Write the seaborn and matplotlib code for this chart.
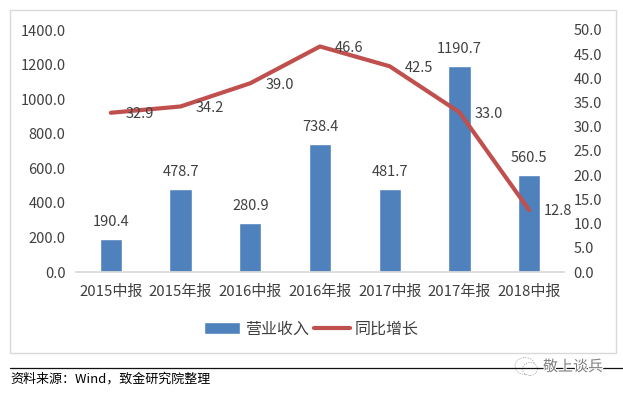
import matplotlib
matplotlib.use("Agg")
import matplotlib.pyplot as plt
from matplotlib.patches import Rectangle, Ellipse
import matplotlib.patheffects as pe
import seaborn as sns
import pandas as pd

categories = ["2015中报", "2015年报", "2016中报", "2016年报", "2017中报", "2017年报", "2018中报"]
revenue = [190.4, 478.7, 280.9, 738.4, 481.7, 1190.7, 560.5]
growth = [32.9, 34.2, 39.0, 46.6, 42.5, 33.0, 12.8]
left_ticks = [0, 200, 400, 600, 800, 1000, 1200, 1400]
right_ticks = [0, 5, 10, 15, 20, 25, 30, 35, 40, 45, 50]

sns.set_theme(style="white")
plt.rcParams['font.family'] = ['Noto Sans CJK SC', 'DejaVu Sans']
TXT = "#404040"
BLUE = "#4f81bd"
RED = "#c0504d"

df = pd.DataFrame({"cat": categories, "rev": revenue, "gr": growth})
fig = plt.figure(figsize=(6.23, 3.93), dpi=100)
W, H = 623, 393
ax = fig.add_axes([76/W, 1-272/H, (564-76)/W, (272-30)/H])
sns.barplot(data=df, x="cat", y="rev", ax=ax, color=BLUE, width=0.32, saturation=1, label="营业收入")
ax.set_ylim(0, 1400)
ax.set_xlim(-0.5, 6.5)
ax.set_yticks(left_ticks)
ax.set_yticklabels([f"{v:.1f}" for v in left_ticks], fontsize=10.5, color=TXT)
ax.set_xlabel(""); ax.set_ylabel("")
ax.tick_params(axis='x', labelsize=10.8, colors=TXT, length=0, pad=9.5)
ax.tick_params(axis='y', length=0, pad=7.5)
ax.yaxis.grid(False); ax.xaxis.grid(False)
for s in ["top", "left", "right"]:
    ax.spines[s].set_visible(False)
ax.spines["bottom"].set_color("#d9d9d9")
for i, v in enumerate(revenue):
    ax.text(i, v + 58, f"{v:.1f}", ha="center", va="bottom", fontsize=10.5, color=TXT)

ax2 = ax.twinx()
sns.lineplot(data=df, x="cat", y="gr", ax=ax2, color=RED, linewidth=3, label="同比增长", legend=False, sort=False)
ax2.set_ylim(0, 50)
ax2.set_yticks(right_ticks)
ax2.set_yticklabels([f"{v:.1f}" for v in right_ticks], fontsize=10.5, color=TXT)
ax2.set_xlabel(""); ax2.set_ylabel("")
ax2.tick_params(axis='y', length=0, pad=7)
ax2.grid(False)
for s in ax2.spines.values():
    s.set_visible(False)
for i, v in enumerate(growth):
    ax2.annotate(f"{v:.1f}", (i, v), xytext=(21, -1), textcoords="offset points", ha="center", va="center", fontsize=10.5, color=TXT)

h1, l1 = ax.get_legend_handles_labels()
h2, l2 = ax2.get_legend_handles_labels()
if ax.get_legend():
    ax.get_legend().remove()
fig.legend(h1 + h2, l1 + l2, ncol=2, loc="center", bbox_to_anchor=(311.5/W, 1-329/H), frameon=False,
           fontsize=11.5, labelcolor=TXT, handlelength=2.25, handleheight=0.75, columnspacing=0.3, handletextpad=0.3)

fig.add_artist(Rectangle((9.5/W, 1-353/H), (615.5-9.5)/W, (353-10)/H, transform=fig.transFigure, fill=False, ec="#d9d9d9", lw=1))
fig.add_artist(plt.Line2D([10/W, 623/W], [1-368/H, 1-368/H], color="#111111", lw=0.9))
fig.text(10.5/W, 1-379/H, "资料来源：Wind，致金研究院整理", fontsize=9.4, color="#000000", va="center", ha="left")

# watermark: a faint speech-bubble icon and the account name over the rule
for cx, cy, w_, h_ in [(525, 366, 20, 17), (530, 369, 15, 13)]:
    fig.add_artist(Ellipse((cx/W, 1-cy/H), w_/W, h_/H, transform=fig.transFigure, fc="white", ec="#aaaaaa", lw=0.6, ls=(0, (1.5, 1.5))))
fig.text(543/W, 1-367/H, "敬上谈兵", fontsize=10.8, color="#808080", va="center", ha="left",
         path_effects=[pe.withStroke(linewidth=1.5, foreground="white")])
fig.savefig("out.png", dpi=100, facecolor="white")
